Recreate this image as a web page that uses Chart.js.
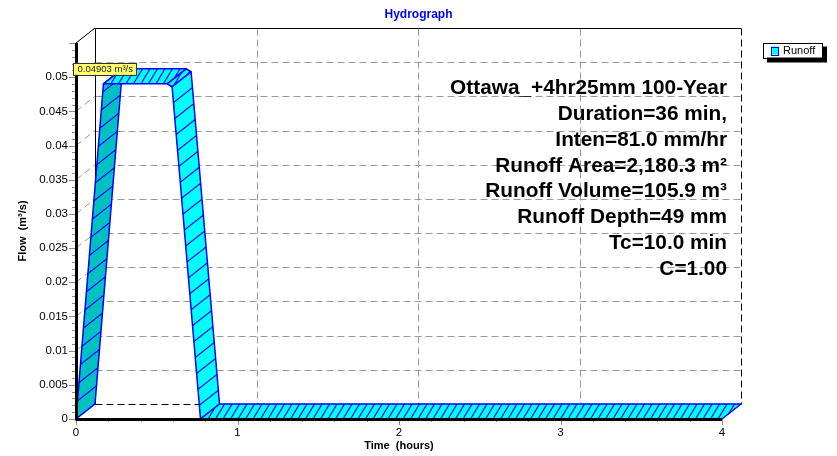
<!DOCTYPE html>
<html>
<head>
<meta charset="utf-8">
<title>Hydrograph</title>
<script src="https://cdn.jsdelivr.net/npm/chart.js@4.4.0/dist/chart.umd.min.js"></script>
<style>
  body { margin: 0; background: #ffffff; }
</style>
</head>
<body>
<canvas id="hydrograph" width="837" height="456"></canvas>
<script>

// runoff hydrograph (time in hours, flow in m3/s)
var timeHours = [0, 0.17, 0.565, 0.595, 0.771, 4];
var flowValues = [0, 0.04903, 0.04903, 0.0486, 0, 0];
var peakFlow = 0.04903;
var seriesName = 'Runoff';

var xTicks = [0, 1, 2, 3, 4];
var yTicks = [0, 0.005, 0.01, 0.015, 0.02, 0.025, 0.03, 0.035, 0.04, 0.045, 0.05];

var infoLines = [
  'Ottawa_+4hr25mm 100-Year',
  'Duration=36 min,',
  'Inten=81.0 mm/hr',
  'Runoff Area=2,180.3 m²',
  'Runoff Volume=105.9 m³',
  'Runoff Depth=49 mm',
  'Tc=10.0 min',
  'C=1.00'
];

var FONT = '"Liberation Sans", Arial, Helvetica, sans-serif';

// 3d depth shift of the back plane
var depthX = 19;
var depthY = -15;

function line(ctx, x1, y1, x2, y2){
  ctx.beginPath();
  ctx.moveTo(x1, y1);
  ctx.lineTo(x2, y2);
  ctx.stroke();
}

function px(v){
  return Math.round(v) + 0.5;
}

function drawBackPlane(chart){

  var ctx = chart.ctx;
  var a = chart.chartArea;
  var xs = chart.scales.x;
  var ys = chart.scales.y;

  var bl = px(a.left + depthX), br = px(a.right + depthX);
  var bt = px(a.top + depthY), bb = px(a.bottom + depthY);

  ctx.save();
  ctx.lineWidth = 1;
  ctx.strokeStyle = '#9a9a9a';
  ctx.setLineDash([7, 4]);

  for (var i = 1; i < yTicks.length; i++) {
    var y = ys.getPixelForValue(yTicks[i]);
    line(ctx, a.left, y, a.left + depthX, y + depthY);
    line(ctx, bl, px(y + depthY), br, px(y + depthY));
  }

  for (var j = 1; j < xTicks.length - 1; j++) {
    var x = px(xs.getPixelForValue(xTicks[j]) + depthX);
    line(ctx, x, bt, x, bb);
  }

  // edges of the back box
  ctx.strokeStyle = '#000000';
  line(ctx, br, bt, br, bb);
  line(ctx, bl, bb, br, bb);
  ctx.setLineDash([]);
  line(ctx, a.left, a.top, a.left + depthX, a.top + depthY);
  line(ctx, bl, bt, br, bt);
  line(ctx, bl, bt, bl, bb);
  ctx.restore();
}

function quadPath(ctx, q){
  ctx.beginPath();
  ctx.moveTo(q[0][0], q[0][1]);
  for (var i = 1; i < q.length; i++) ctx.lineTo(q[i][0], q[i][1]);
  ctx.closePath();
}

function hatch(ctx, q, steep){

  // steep faces: lines along the depth, flat faces: steeper lines
  var ux = steep ? depthX : 9;
  var uy = steep ? depthY : -15;
  var step = steep ? 17 : 7.5;
  var ex = steep ? 0 : 1;
  var ey = steep ? 1 : 0;

  var minX = 1e9, maxX = -1e9, minY = 1e9, maxY = -1e9;
  for (var i = 0; i < q.length; i++) {
    minX = Math.min(minX, q[i][0]); maxX = Math.max(maxX, q[i][0]);
    minY = Math.min(minY, q[i][1]); maxY = Math.max(maxY, q[i][1]);
  }
  var size = (maxX - minX) + (maxY - minY) + 40;
  var n = Math.ceil(size / step) + 2;
  var x0 = q[0][0], y0 = q[0][1];

  ctx.beginPath();
  for (var k = -n; k <= n; k++) {
    var cx = x0 + k * step * ex;
    var cy = y0 + k * step * ey;
    ctx.moveTo(cx - ux * size, cy - uy * size);
    ctx.lineTo(cx + ux * size, cy + uy * size);
  }
  ctx.strokeStyle = '#0000ff';
  ctx.lineWidth = 1.2;
  ctx.stroke();
}

function drawRibbon(chart){

  var ctx = chart.ctx;
  var pts = chart.getDatasetMeta(0).data;

  for (var i = 0; i < pts.length - 1; i++) {

    var p0 = pts[i], p1 = pts[i + 1];
    var q = [
      [p0.x, p0.y],
      [p1.x, p1.y],
      [p1.x + depthX, p1.y + depthY],
      [p0.x + depthX, p0.y + depthY]
    ];
    var rising = p1.y < p0.y - 1;
    var steep = Math.abs(p1.y - p0.y) > Math.abs(p1.x - p0.x);

    ctx.save();
    quadPath(ctx, q);
    ctx.fillStyle = rising ? '#00c0c0' : '#00ffff';
    ctx.fill();
    ctx.clip();
    hatch(ctx, q, steep);
    ctx.restore();

    ctx.save();
    quadPath(ctx, q);
    ctx.strokeStyle = '#0000ff';
    ctx.lineWidth = 1.5;
    ctx.lineJoin = 'round';
    ctx.stroke();
    ctx.restore();
  }
}

function drawFrontAxes(chart){

  var ctx = chart.ctx;
  var a = chart.chartArea;
  var xs = chart.scales.x;
  var ys = chart.scales.y;

  ctx.save();
  ctx.strokeStyle = '#8c8c8c';
  ctx.lineWidth = 1;

  // minor and major ticks on the flow axis
  for (var v = 0; v <= 55; v++) {
    var y = px(ys.getPixelForValue(v / 1000));
    var len = (v % 5 == 0) ? 7 : 4;
    line(ctx, a.left - len, y, a.left, y);
  }

  // minor and major ticks on the time axis
  for (var t = 0; t <= 20; t++) {
    var x = px(xs.getPixelForValue(t / 5));
    var tl = (t % 5 == 0) ? 6 : 3;
    line(ctx, x, a.bottom, x, a.bottom + tl);
  }

  ctx.strokeStyle = '#000000';
  ctx.lineWidth = 3;
  line(ctx, a.left + 0.5, a.top, a.left + 0.5, a.bottom + 1.5);
  line(ctx, a.left, a.bottom + 0.5, a.right, a.bottom + 0.5);
  ctx.restore();
}

function drawPeakLabel(chart){

  var ctx = chart.ctx;
  var a = chart.chartArea;
  var y = chart.scales.y.getPixelForValue(peakFlow) + depthY;
  var txt = peakFlow + ' m³/s';

  ctx.save();
  ctx.font = '9.5px ' + FONT;
  var w = ctx.measureText(txt).width + 8;
  ctx.fillStyle = '#ffff6e';
  ctx.fillRect(a.left - 3, y - 6, w, 12);
  ctx.strokeStyle = '#333333';
  ctx.lineWidth = 1;
  ctx.strokeRect(px(a.left - 3), px(y - 6), Math.round(w), 12);
  ctx.fillStyle = '#222222';
  ctx.textBaseline = 'middle';
  ctx.fillText(txt, a.left + 1.5, y + 0.5);
  ctx.restore();
}

function drawInfo(chart){

  var ctx = chart.ctx;
  var a = chart.chartArea;

  ctx.save();
  ctx.font = 'bold 20.8px ' + FONT;
  ctx.fillStyle = '#000000';
  ctx.textAlign = 'right';
  ctx.textBaseline = 'middle';
  for (var i = 0; i < infoLines.length; i++) {
    ctx.fillText(infoLines[i], a.right + 5, a.top + 45.5 + i * 25.8);
  }
  ctx.restore();
}

function drawLegendBox(chart){

  var ctx = chart.ctx;
  var a = chart.chartArea;
  var lx = a.right + 41, ly = a.top - 0.5;

  ctx.save();
  ctx.fillStyle = '#000000';
  ctx.fillRect(lx + 4, ly + 4, 60, 16);
  ctx.fillStyle = '#ffffff';
  ctx.fillRect(lx, ly, 59, 15);
  ctx.strokeStyle = '#000000';
  ctx.lineWidth = 1;
  ctx.strokeRect(px(lx), px(ly), 59, 15);

  ctx.fillStyle = '#00ffff';
  ctx.fillRect(lx + 8, ly + 4, 7, 8);
  ctx.strokeStyle = '#0000ff';
  ctx.strokeRect(px(lx + 8), px(ly + 4), 7, 8);

  ctx.fillStyle = '#000000';
  ctx.font = '11px ' + FONT;
  ctx.textBaseline = 'middle';
  ctx.fillText(chart.data.datasets[0].label, lx + 20, ly + 8.5);
  ctx.restore();
}

var plot3d = {
  id: 'plot3d',
  beforeDatasetsDraw: function(chart){
    drawBackPlane(chart);
  },
  afterDatasetsDraw: function(chart){
    drawRibbon(chart);
    drawFrontAxes(chart);
    drawPeakLabel(chart);
    drawInfo(chart);
    drawLegendBox(chart);
  }
};

function drawHydrograph(){

  var punti = [];
  for (var i = 0; i < timeHours.length; i++) {
    punti.push({ x: timeHours[i], y: flowValues[i] });
  }

  var ctx = document.getElementById('hydrograph').getContext('2d');
  var chart = new Chart(ctx, {
    type: 'scatter',
    data: {
      datasets: [{
        label: seriesName,
        data: punti,
        showLine: false,
        pointRadius: 0,
        backgroundColor: '#00ffff',
        borderColor: '#0000ff'
      }]
    },
    options: {
      responsive: false,
      animation: false,
      devicePixelRatio: 1,
      layout: { padding: 0 },
      plugins: {
        legend: { display: false },
        tooltip: { enabled: false },
        title: {
          display: true,
          text: 'Hydrograph',
          color: '#0000ff',
          font: { family: FONT, size: 12, weight: 'bold' },
          padding: { top: 7, bottom: 21.6 }
        }
      },
      scales: {
        x: {
          type: 'linear',
          min: 0,
          max: 4,
          grid: { display: false, drawTicks: false },
          border: { display: false },
          afterBuildTicks: function(scale){
            scale.ticks = xTicks.map(function(v){ return { value: v }; });
          },
          ticks: {
            color: '#000000',
            font: { family: FONT, size: 11.5 },
            padding: 7,
            maxRotation: 0,
            callback: function(v){ return String(v); }
          },
          title: {
            display: true,
            text: 'Time  (hours)',
            color: '#000000',
            font: { family: FONT, size: 11, weight: 'bold' },
            padding: { top: 0, bottom: 3.4 }
          },
          afterFit: function(scale){
            scale.height = 37;
            scale.paddingLeft = 0;
            scale.paddingRight = 0;
          }
        },
        y: {
          type: 'linear',
          min: 0,
          max: 0.055,
          grid: { display: false, drawTicks: false },
          border: { display: false },
          afterBuildTicks: function(scale){
            scale.ticks = yTicks.map(function(v){ return { value: v }; });
          },
          ticks: {
            color: '#000000',
            font: { family: FONT, size: 11.5 },
            padding: 8,
            callback: function(v){ return String(+v.toFixed(3)); }
          },
          title: {
            display: true,
            text: 'Flow  (m³/s)',
            color: '#000000',
            font: { family: FONT, size: 11, weight: 'bold' },
            padding: { top: 16.4, bottom: 0 }
          },
          afterFit: function(scale){
            scale.width = 76;
            scale.paddingTop = 0;
            scale.paddingBottom = 0;
          }
        },
        // empty box on the right, leaves room for the text and the legend
        side: {
          type: 'linear',
          position: 'right',
          min: 0,
          max: 1,
          grid: { display: false, drawTicks: false },
          border: { display: false },
          ticks: { display: false },
          afterFit: function(scale){
            scale.width = 115;
            scale.paddingTop = 0;
            scale.paddingBottom = 0;
          }
        }
      }
    },
    plugins: [plot3d]
  });
}

drawHydrograph();

</script>
</body>
</html>
